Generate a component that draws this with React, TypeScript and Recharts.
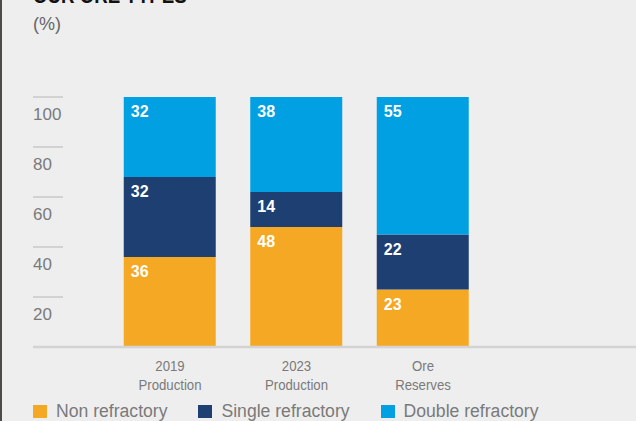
import { BarChart, Bar, XAxis, YAxis, LabelList } from "recharts"

const categories = ["2019\nProduction", "2023\nProduction", "Ore\nReserves"]
const nonRefractory = [36, 48, 23]
const singleRefractory = [32, 14, 22]
const doubleRefractory = [32, 38, 55]
const yTicks = [0, 20, 40, 60, 80, 100]

const series = [
  { key: "non", name: "Non refractory", values: nonRefractory, color: "#F5A823" },
  { key: "single", name: "Single refractory", values: singleRefractory, color: "#1D3F72" },
  { key: "double", name: "Double refractory", values: doubleRefractory, color: "#00A0E2" },
]

const data = categories.map((cat, i) => {
  const row: any = { cat }
  series.forEach((s) => (row[s.key] = s.values[i]))
  return row
})

const GREY = "#7a7a7a"
const SANS = "'Liberation Sans', Arial, sans-serif"

// y ticks: short rule above the number, like the print version
const YTick = ({ y, payload }: any) => {
  if (payload.value === 0) return null
  return (
    <g>
      <line x1={33} x2={63} y1={y} y2={y} stroke="#c9c9c9" strokeWidth={1.5} />
      <text x={33} y={y + 23} fill={GREY} fontSize={17} fontFamily={SANS}>
        {payload.value}
      </text>
    </g>
  )
}

const XTick = ({ x, y, payload }: any) => {
  const lines = String(payload.value).split("\n")
  return (
    <g transform={`translate(${x},0) scale(0.88,1)`}>
      <text x={0} y={y} textAnchor="middle" fill={GREY} fontSize={15} fontFamily={SANS}>
        {lines.map((l, i) => (
          <tspan key={i} x={0} dy={i === 0 ? 16 : 19}>
            {l}
          </tspan>
        ))}
      </text>
    </g>
  )
}

const SegLabel = ({ x, y, value }: any) => (
  <text x={x + 7} y={y + 20} fill="#fff" fontSize={16} fontWeight="bold" fontFamily={SANS}>
    {value}
  </text>
)

export default function App() {
  return (
    <div
      style={{
        position: "absolute",
        left: 0,
        top: 0,
        width: 636,
        height: 421,
        background: "#eeeeee",
        overflow: "hidden",
        fontFamily: SANS,
      }}
    >
      <div style={{ position: "absolute", left: 0, top: 0, width: 2, height: 421, background: "#4d4a48" }} />
      <div
        style={{
          position: "absolute",
          left: 33,
          top: -16,
          fontSize: 22,
          fontWeight: "bold",
          color: "#111",
          lineHeight: "24px",
          transform: "scaleX(0.85)",
          transformOrigin: "left",
          whiteSpace: "nowrap",
        }}
      >
        OUR ORE TYPES
      </div>
      <div style={{ position: "absolute", left: 33, top: 13, fontSize: 18, color: "#666", lineHeight: "22px" }}>
        (%)
      </div>
      <BarChart
        width={636}
        height={421}
        data={data}
        margin={{ top: 97, right: 0, left: 32, bottom: 0 }}
      >
        <YAxis
          width={1}
          domain={[0, 100]}
          ticks={yTicks}
          axisLine={false}
          tickLine={false}
          tick={(p: any) => <YTick {...p} />}
          interval={0}
        />
        <XAxis
          dataKey="cat"
          height={74}
          padding={{ left: 73.75, right: 149.75 }}
          axisLine={{ stroke: "#d3d3d3", strokeWidth: 2.5 }}
          tickLine={false}
          tick={(p: any) => <XTick {...p} />}
          interval={0}
        />
        {series.map((s) => (
          <Bar key={s.key} dataKey={s.key} name={s.name} stackId="a" fill={s.color} barSize={92} isAnimationActive={false}>
            <LabelList dataKey={s.key} content={<SegLabel />} />
          </Bar>
        ))}
      </BarChart>
      <div style={{ position: "absolute", left: 33, top: 401, display: "flex", alignItems: "center" }}>
        {series.map((s) => (
          <div key={s.key} style={{ display: "flex", alignItems: "center", marginRight: 31 }}>
            <div style={{ width: 14, height: 13, background: s.color, marginRight: 9 }} />
            <span style={{ fontSize: 17.6, color: GREY, lineHeight: "20px" }}>{s.name}</span>
          </div>
        ))}
      </div>
    </div>
  )
}
